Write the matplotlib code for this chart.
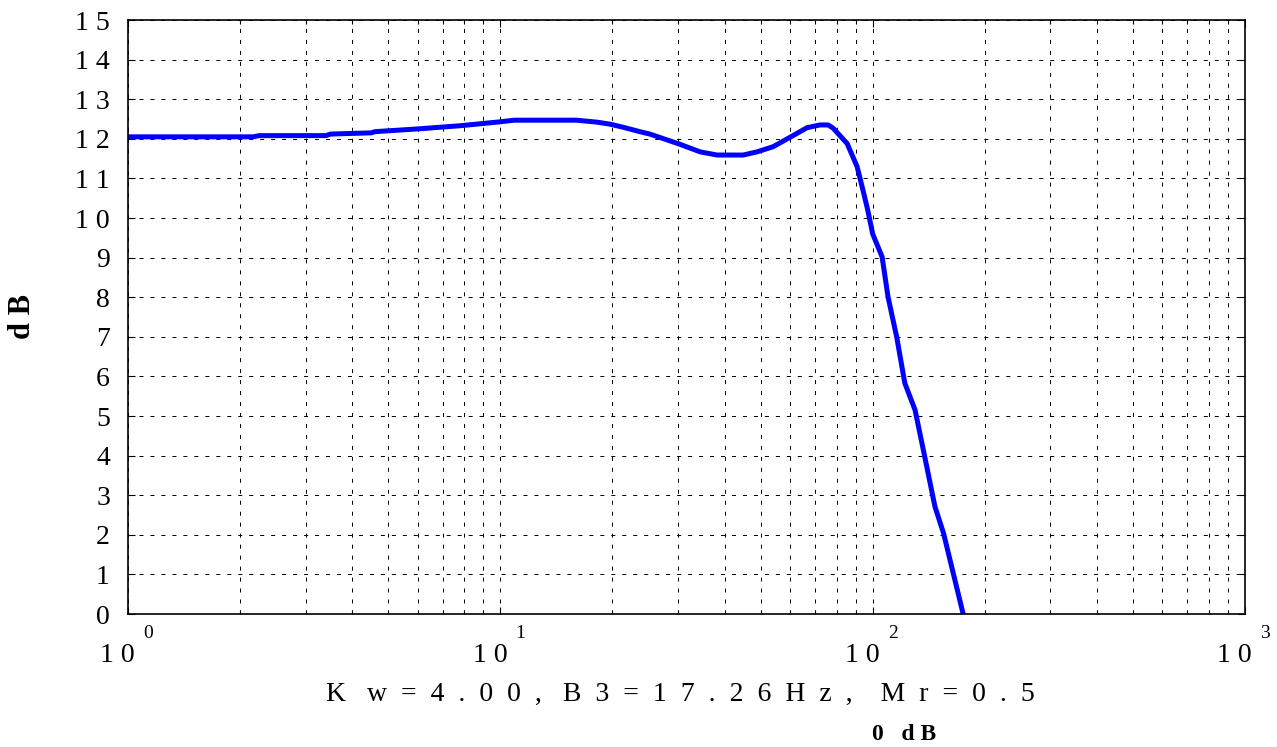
import matplotlib
matplotlib.use("Agg")
import matplotlib.pyplot as plt
import matplotlib.transforms as mtransforms
import numpy as np

plt.rcParams['lines.scale_dashes'] = False

# ---- data ----
freq = [1.0, 2.17, 2.25, 3.4, 3.5, 4.5, 4.6, 6.0, 7.8, 10.0, 10.9, 16.0,
        18.2, 19.7, 21.4, 23.7, 25.2, 30.4, 34.4, 38.2, 44.9, 48.9, 54.0,
        61.1, 66.6, 72.2, 75.9, 78.3, 85.4, 90.8, 94.2, 97.0, 100.0, 106.0,
        110.0, 116.0, 122.0, 130.0, 138.0, 147.0, 155.0, 175.0]
mag_db = [12.05, 12.05, 12.08, 12.08, 12.12, 12.15, 12.18, 12.25, 12.33,
          12.43, 12.47, 12.47, 12.42, 12.37, 12.29, 12.18, 12.12, 11.86,
          11.67, 11.59, 11.59, 11.67, 11.8, 12.08, 12.28, 12.35, 12.35,
          12.27, 11.88, 11.3, 10.7, 10.2, 9.6, 9.02, 8.0, 7.0, 5.83, 5.15,
          3.97, 2.71, 2.04, 0.0]
ytick_vals = list(range(16))
ytick_labels = [" ".join(str(v)) for v in ytick_vals]
xtick_vals = [1, 10, 100, 1000]
xtick_exps = ["0", "1", "2", "3"]
xlabel_text = ("K   w  =  4  .  0  0  ,   B  3  =  1  7  .  2  6  H  z  ,"
               "    M  r  =  0  .  5")
note_text = "0   d B"
ylabel_text = "d B"

SERIF = "Liberation Serif"

fig = plt.figure(figsize=(12.77, 7.47), dpi=100)
ax = fig.add_axes([128/1277, 1-614/747, (1245-128)/1277, (614-20)/747])

ax.plot(freq, mag_db, color=(0, 0, 1), linewidth=3.6, solid_joinstyle='round')

ax.set_xscale('log')
ax.set_xlim(1, 1000)
ax.set_ylim(0, 15)

gstyle = dict(color='black', linestyle=(0, (2.9, 5.0)), linewidth=0.7)
ax.grid(True, which='major', axis='both', **gstyle)
ax.grid(True, which='minor', axis='x', **gstyle)

ax.set_yticks(ytick_vals)
ax.set_yticklabels(ytick_labels, fontfamily=SERIF, fontsize=20)
ax.set_xticks(xtick_vals)
ax.set_xticklabels([""] * len(xtick_vals))
ax.tick_params(which='both', direction='in', top=True, right=True,
               width=0.8, colors='black')
ax.tick_params(which='major', length=5, pad=13)
ax.tick_params(which='minor', length=3)

for sp in ax.spines.values():
    sp.set_linewidth(1.2)

trans_x = mtransforms.blended_transform_factory(ax.transData, ax.transAxes)
for v, e in zip(xtick_vals, xtick_exps):
    t1 = trans_x + mtransforms.ScaledTranslation(7/100, -48/100, fig.dpi_scale_trans)
    ax.text(v, 0, "1 0", transform=t1, ha='right', va='baseline',
            fontfamily=SERIF, fontsize=20, clip_on=False)
    t2 = trans_x + mtransforms.ScaledTranslation(15/100, -24/100, fig.dpi_scale_trans)
    ax.text(v, 0, e, transform=t2, ha='left', va='baseline',
            fontfamily=SERIF, fontsize=14, clip_on=False)

fig.text(326/1277, 1-701/747, xlabel_text, ha='left', va='baseline',
         fontfamily=SERIF, fontsize=20)
fig.text(904/1277, 1-740/747, note_text, ha='center', va='baseline',
         fontfamily=SERIF, fontsize=17, fontweight='bold')
fig.text(23/1277, 1-317/747, ylabel_text, ha='center', va='center',
         rotation=90, fontfamily=SERIF, fontsize=22, fontweight='bold')

fig.savefig("out.png", dpi=100, facecolor='white')
